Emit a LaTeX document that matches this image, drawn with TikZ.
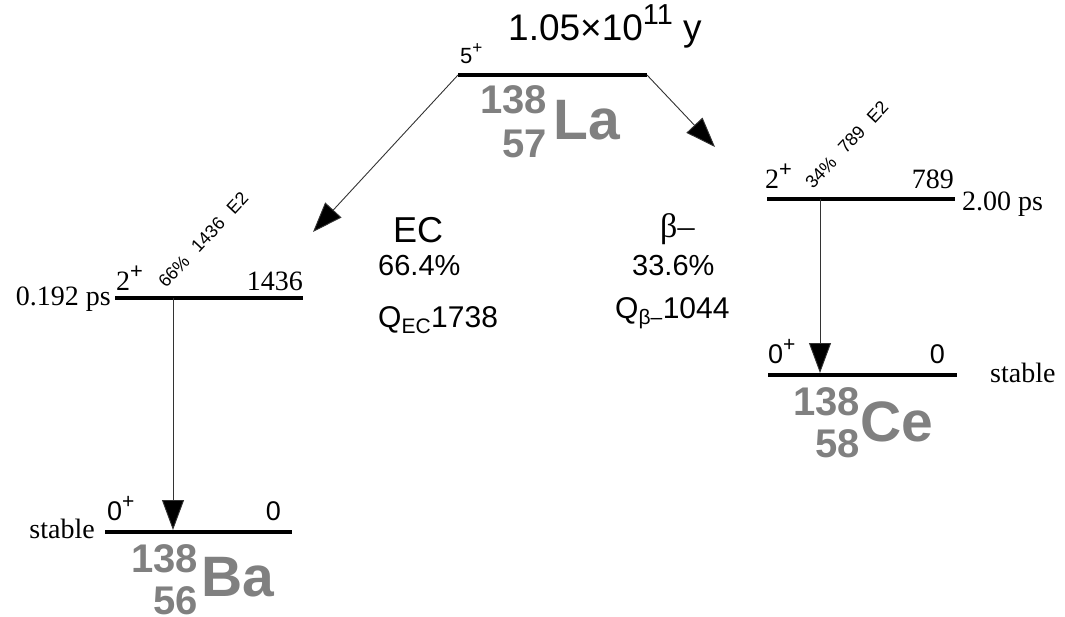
\documentclass[tikz,border=0pt]{standalone}
\usepackage{fontspec}
\setmainfont{Liberation Serif}
\setsansfont{Liberation Sans}
\usetikzlibrary{arrows.meta}
\definecolor{isogray}{RGB}{128,128,128}
\newcommand{\hisup}[1]{\raisebox{0.42em}{\scalebox{0.78}{#1}}}
\tikzset{
 lvlline/.style={line width=4.5pt},
 gtrans/.style={line width=0.9pt, draw=black!80, -{Triangle[length=30pt,width=22pt,fill=black]}},
 sertext/.style={inner sep=0pt, font=\fontsize{28}{30}\selectfont\rmfamily},
 santext/.style={inner sep=0pt, font=\fontsize{27}{30}\selectfont\sffamily},
 midtext/.style={inner sep=0pt, font=\fontsize{30}{32}\selectfont\sffamily},
 bigtext/.style={inner sep=0pt, font=\fontsize{36}{40}\selectfont\sffamily},
 rottext/.style={inner sep=0pt, rotate=47, anchor=base west, font=\fontsize{18}{20}\selectfont\sffamily},
 massnum/.style={inner sep=0pt, anchor=base east, text=isogray, font=\fontsize{40}{42}\selectfont\sffamily\bfseries},
 elemname/.style={inner sep=0pt, anchor=base west, text=isogray, font=\fontsize{57}{60}\selectfont\sffamily\bfseries},
}
\begin{document}
\begin{tikzpicture}[x=1pt,y=-1pt]
\useasboundingbox (0,0) rectangle (1065,616);
% level end points
\coordinate (LaA) at (458,75);  \coordinate (LaB) at (647,75);
\coordinate (Ba2A) at (115,298); \coordinate (Ba2B) at (303,298);
\coordinate (Ba0A) at (105,532); \coordinate (Ba0B) at (292,532);
\coordinate (Ce2A) at (767,199); \coordinate (Ce2B) at (955,199);
\coordinate (Ce0A) at (768,375); \coordinate (Ce0B) at (957,375);
\coordinate (BaG1) at (173,298); \coordinate (BaG0) at (173,530);
\coordinate (CeG1) at (820,199); \coordinate (CeG0) at (820,373);
\coordinate (ECtip) at (313,232); \coordinate (Btip) at (715,147);
% levels
\draw[lvlline] (LaA) -- (LaB);
\draw[lvlline] (Ba2A) -- (Ba2B);
\draw[lvlline] (Ba0A) -- (Ba0B);
\draw[lvlline] (Ce2A) -- (Ce2B);
\draw[lvlline] (Ce0A) -- (Ce0B);
% transitions
\draw[gtrans] (LaA) -- (ECtip);
\draw[gtrans] (LaB) -- (Btip);
\draw[gtrans] (BaG1) -- (BaG0);
\draw[gtrans] (CeG1) -- (CeG0);
% La
\node[santext, anchor=base west, font=\fontsize{22}{24}\selectfont\sffamily] (la5) at (460,63) {5\hisup{+}};
\node[bigtext, anchor=base west, font=\fontsize{37}{40}\selectfont\sffamily] (lahl) at (508,40) {1.05×10\hisup{11} y};
\node[massnum] (lam) at (547,113) {138};
\node[massnum] (laz) at (547,157) {57};
\node[elemname] (lael) at (553,139) {La};
% EC branch
\node[bigtext, anchor=base west] (ec) at (393,242) {EC};
\node[santext, anchor=base west, font=\fontsize{29}{30}\selectfont\sffamily] (ecp) at (378,275) {66.4\%};
\node[midtext, anchor=base west] (ecq) at (378,327) {Q\textsubscript{EC}1738};
% beta branch
\node[sertext, anchor=base west, font=\fontsize{34}{36}\selectfont\rmfamily] (bm) at (660,237) {β–};
\node[santext, anchor=base west, font=\fontsize{29}{30}\selectfont\sffamily] (bmp) at (632,275) {33.6\%};
\node[midtext, anchor=base west] (bmq) at (615,318) {Q\textsubscript{β–}1044};
% Ba 2+
\node[sertext, anchor=base east] (ba2t) at (111,305) {0.192 ps};
\node[sertext, anchor=base west] (ba2s) at (116,290) {2\hisup{\sffamily+}};
\node[sertext, anchor=base east] (ba2e) at (303,290) {1436};
\node[rottext] (ba2g) at (166,289) {66\%\hspace{12pt}1436\hspace{12pt}E2};
% Ba 0
\node[sertext, anchor=base east] (ba0t) at (95,538) {stable};
\node[santext, anchor=base west] (ba0s) at (107,520) {0\hisup{+}};
\node[santext, anchor=base east] (ba0e) at (281,520) {0};
\node[massnum] (bam) at (198,572) {138};
\node[massnum] (baz) at (198,614) {56};
\node[elemname] (bael) at (201,596) {Ba};
% Ce 2+
\node[sertext, anchor=base west] (ce2s) at (765,188) {2\hisup{\sffamily+}};
\node[sertext, anchor=base east] (ce2e) at (954,188) {789};
\node[sertext, anchor=base west] (ce2t) at (962,210) {2.00 ps};
\node[rottext] (ce2g) at (813,190) {34\%\hspace{12pt}789\hspace{12pt}E2};
% Ce 0
\node[santext, anchor=base west] (ce0s) at (768,363) {0\hisup{+}};
\node[santext, anchor=base east] (ce0e) at (945,363) {0};
\node[sertext, anchor=base west] (ce0t) at (990,382) {stable};
\node[massnum] (cem) at (860,415) {138};
\node[massnum] (cez) at (860,457) {58};
\node[elemname] (ceel) at (860,441) {Ce};
\end{tikzpicture}
\end{document}
